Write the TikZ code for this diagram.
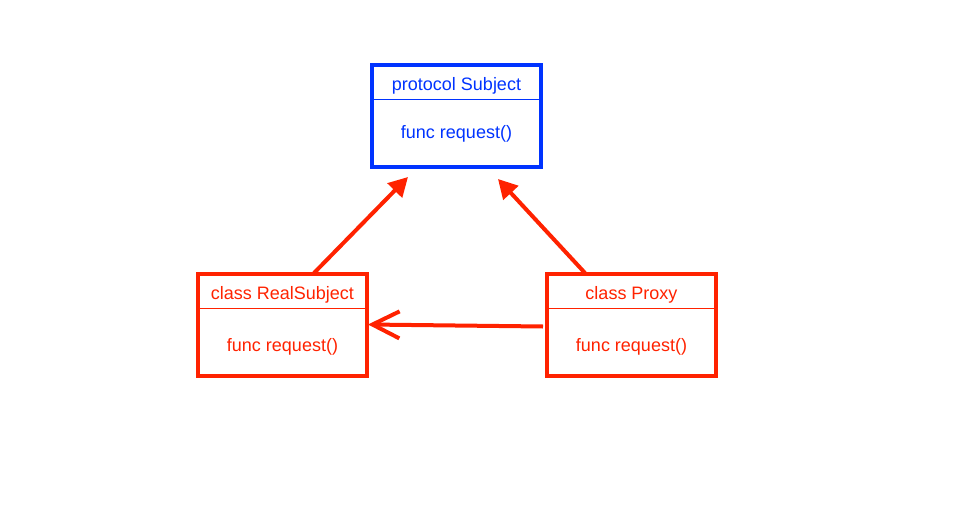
\documentclass[tikz,border=0pt]{standalone}
\usepackage{fontspec}
\setmainfont{Liberation Sans}
\usepackage{tikz}
\usetikzlibrary{arrows.meta}
\definecolor{protoblue}{RGB}{0,51,255}
\definecolor{classred}{RGB}{255,34,0}

\begin{document}
\begin{tikzpicture}[x=1pt,y=-1pt,
	umlbox/.style={shape=rectangle,line width=4pt,minimum width=169pt,minimum height=102pt,inner sep=0pt},
	boxtext/.style={font=\fontsize{18}{20}\selectfont,inner sep=0pt},
	divider/.style={line width=1pt}]
			\useasboundingbox (0,0) rectangle (961,530);
			
			\node[umlbox,draw=protoblue] (S) at (456.5,116) {};
			\node[boxtext,text=protoblue] (Stitle) at (456.5,85.5) {protocol Subject};
			\node[boxtext,text=protoblue] (Sfunc) at (456.5,133.5) {func request()};
			
			\node[umlbox,draw=classred] (R) at (282.5,325) {};
			\node[boxtext,text=classred] (Rtitle) at (282.5,294.5) {class RealSubject};
			\node[boxtext,text=classred] (Rfunc) at (282.5,346.5) {func request()};
			
			\node[umlbox,draw=classred] (P) at (631.5,325) {};
			\node[boxtext,text=classred] (Ptitle) at (631.5,294.5) {class Proxy};
			\node[boxtext,text=classred] (Pfunc) at (631.5,346.5) {func request()};
			
			\draw[divider,protoblue] ([yshift=-36.5pt]S.north west) -- ([yshift=-36.5pt]S.north east);
			\draw[divider,classred] ([yshift=-36pt]R.north west) -- ([yshift=-36pt]R.north east);
			\draw[divider,classred] ([yshift=-36pt]P.north west) -- ([yshift=-36pt]P.north east);
			
			\coordinate (Rup) at ([xshift=31.5pt,yshift=-1pt]R.north);
			\coordinate (Pup) at ([xshift=-46.5pt,yshift=-1pt]P.north);
			\coordinate (Sleft) at ([xshift=-48.5pt,yshift=-8pt]S.south);
			\coordinate (Sright) at ([xshift=41.5pt,yshift=-10pt]S.south);
			\coordinate (Pwest) at ([xshift=-2pt,yshift=-1.5pt]P.west);
			\coordinate (Reast) at ([xshift=-1pt,yshift=0.5pt]R.east);
			
			\path [-{Triangle[length=19pt,width=20pt]}, line width=4pt, classred] (Rup) edge (Sleft);
			\path [-{Triangle[length=19pt,width=20pt]}, line width=4pt, classred] (Pup) edge (Sright);
			\path [-{Straight Barb[length=27pt,width=27pt]}, line width=4pt, classred] (Pwest) edge (Reast);
			\end{tikzpicture}
\end{document}
